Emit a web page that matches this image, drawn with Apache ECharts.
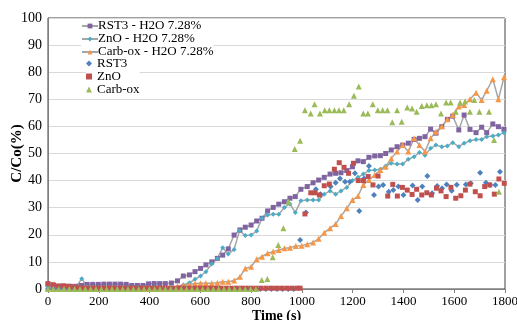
<!DOCTYPE html>
<html><head><meta charset="utf-8">
<script src="https://cdn.jsdelivr.net/npm/echarts@6/dist/echarts.min.js"></script>
<style>html,body{margin:0;padding:0;background:#fff}#c{width:517px;height:320px}</style>
</head><body><div id="c"></div>
<script>
const seriesNames = ['RST3 - H2O 7.28%', 'ZnO - H2O 7.28%', 'Carb-ox - H2O 7.28%', 'RST3', 'ZnO', 'Carb-ox'];
const xTicks = {min: 0, max: 1800, interval: 200};
const yTicks = {min: 0, max: 100, interval: 10};

const rst3H2O = [[0,1.6],[22,1.3],[44,1.0],[66,1.0],[88,1.0],[110,1.0],[132,1.3],[154,1.7],[176,1.7],[198,1.7],[220,1.8],[242,1.8],[264,1.8],[286,1.8],[308,1.7],[330,1.3],[352,1.3],[374,1.3],[396,1.9],[418,2.0],[440,2.0],[462,2.0],[486,2.2],[510,3.0],[533,4.8],[557,5.2],[579,6.4],[601,7.6],[622,8.9],[645,10.0],[667,11.3],[688,12.5],[710,14.8],[733,19.9],[756,21.8],[777,22.8],[800,23.6],[822,25.1],[843,26.1],[865,28.8],[887,30.1],[909,31.3],[931,32.2],[953,33.5],[974,34.1],[996,36.8],[1021,37.8],[1044,39.2],[1066,40.2],[1088,41.2],[1111,42.4],[1133,42.7],[1154,42.9],[1177,43.7],[1199,45.1],[1221,47.3],[1242,47.0],[1264,48.6],[1287,49.1],[1309,49.2],[1330,50.0],[1352,51.3],[1375,52.5],[1397,53.1],[1419,53.8],[1442,55.2],[1463,55.6],[1485,56.2],[1507,59.0],[1528,57.5],[1551,59.9],[1573,62.6],[1594,63.8],[1618,58.7],[1639,64.2],[1662,58.9],[1686,57.7],[1708,59.7],[1728,57.7],[1752,60.9],[1774,59.9],[1796,58.9]];

const znoH2O = [[0,0.8],[22,0.7],[44,0.6],[66,0.6],[88,0.6],[110,0.8],[133,3.8],[155,0.7],[177,0.5],[199,0.5],[221,0.5],[243,0.5],[265,0.5],[287,0.5],[309,0.5],[331,0.5],[353,0.5],[375,0.5],[397,0.5],[419,0.5],[441,0.5],[463,0.5],[486,0.5],[510,0.6],[533,1.5],[557,2.3],[579,3.6],[601,4.8],[622,6.4],[645,9.2],[667,11.3],[688,15.2],[710,12.9],[733,14.6],[754,21.5],[777,19.7],[800,19.9],[822,21.4],[843,26.1],[865,27.3],[887,27.6],[909,27.6],[931,30.1],[953,31.4],[974,28.2],[996,32.6],[1021,32.8],[1044,32.8],[1066,32.8],[1088,35.0],[1111,36.2],[1133,35.0],[1154,36.2],[1177,37.5],[1199,40.0],[1221,41.2],[1242,42.4],[1264,43.7],[1287,43.9],[1309,44.2],[1330,45.4],[1352,46.4],[1375,46.1],[1397,46.1],[1419,47.9],[1442,48.8],[1463,50.4],[1485,49.4],[1507,51.9],[1528,53.1],[1551,52.5],[1573,52.8],[1594,54.0],[1618,52.5],[1639,53.8],[1662,54.7],[1686,55.2],[1708,55.2],[1728,56.2],[1752,56.5],[1774,56.8],[1796,57.7]];

const carbH2O = [[0,0.5],[22,0.3],[44,0.3],[66,0.3],[88,0.3],[110,0.3],[132,0.3],[154,0.3],[176,0.3],[198,0.3],[220,0.3],[242,0.3],[264,0.3],[286,0.3],[308,0.3],[330,0.3],[352,0.3],[374,0.3],[396,0.3],[418,0.3],[440,0.3],[462,0.4],[486,0.5],[510,1.0],[533,1.5],[557,1.7],[579,2.0],[601,2.1],[622,2.1],[645,2.1],[667,2.3],[688,2.7],[710,2.7],[733,3.1],[756,4.5],[777,7.6],[800,8.2],[822,11.0],[843,11.9],[865,13.2],[887,13.8],[909,14.4],[931,15.0],[953,15.2],[976,15.9],[999,16.0],[1021,16.5],[1044,17.2],[1066,18.5],[1088,20.8],[1111,22.4],[1133,24.0],[1154,26.9],[1177,29.8],[1199,32.8],[1221,34.3],[1242,38.4],[1264,40.2],[1287,42.1],[1309,43.9],[1330,45.1],[1352,48.2],[1375,50.7],[1397,53.1],[1419,50.7],[1442,55.6],[1463,53.1],[1485,50.7],[1507,55.6],[1528,58.0],[1551,60.1],[1573,62.6],[1594,64.2],[1618,67.3],[1639,67.9],[1662,70.0],[1686,72.4],[1708,69.7],[1728,73.2],[1752,77.4],[1774,70.0],[1796,78.1]];

const rst3 = [[0,0],[22,0],[44,0],[66,0],[88,0],[110,0],[132,0],[154,0],[176,0],[198,0],[220,0],[242,0],[264,0],[286,0],[308,0],[330,0],[352,0],[374,0],[396,0],[418,0],[440,0],[462,0],[484,0],[506,0],[528,0],[550,0],[572,0],[594,0],[616,0],[638,0],[660,0],[682,0],[704,0],[726,0],[748,0],[770,0],[792,0],[814,0],[836,0],[858,0],[880,0],[902,0],[924,0],[946,0],[968,0],[993,18.1],[1016,28.2],[1055,36.8],[1073,35.0],[1113,37.8],[1133,39.2],[1150,40.8],[1170,39.6],[1189,39.6],[1209,42.7],[1226,28.8],[1245,40.8],[1264,45.4],[1284,34.7],[1302,37.8],[1320,38.4],[1342,35.9],[1360,36.5],[1380,37.8],[1400,34.7],[1436,38.2],[1456,32.8],[1474,37.8],[1494,41.7],[1513,35.3],[1533,38.0],[1552,37.2],[1570,38.6],[1590,36.3],[1610,38.5],[1646,38.6],[1665,39.0],[1702,42.9],[1725,39.2],[1741,38.4],[1762,38.4],[1780,43.3]];

const zno = [[0,2.0],[20,1.6],[40,1.1],[60,1.2],[80,1.0],[100,0.8],[120,0.5],[140,0.3],[160,0.3],[180,0.3],[200,0.3],[220,0.3],[240,0.3],[260,0.3],[280,0.3],[300,0.3],[320,0.3],[340,0.3],[360,0.3],[380,0.3],[400,0.3],[420,0.3],[440,0.3],[460,0.3],[480,0.3],[500,0.3],[520,0.3],[540,0.3],[560,0.3],[580,0.3],[600,0.3],[620,0.3],[640,0.3],[660,0.3],[680,0.3],[700,0.3],[720,0.3],[740,0.3],[760,0.3],[780,0.3],[800,0.3],[820,0.3],[840,0.3],[860,0.3],[880,0.3],[900,0.3],[920,0.3],[940,0.3],[960,0.3],[980,0.3],[993,0.3],[1012,27.7],[1035,35.5],[1052,35.5],[1069,34.7],[1088,38.1],[1108,38.7],[1128,44.2],[1147,46.6],[1166,44.9],[1184,42.7],[1203,46.4],[1222,40.0],[1242,40.0],[1261,41.5],[1280,38.4],[1300,41.7],[1338,34.3],[1358,38.6],[1376,34.3],[1396,37.5],[1415,36.5],[1434,34.9],[1452,36.8],[1472,34.7],[1492,35.5],[1510,34.7],[1530,37.2],[1548,36.2],[1568,34.1],[1587,37.5],[1606,33.5],[1626,34.4],[1644,36.5],[1662,38.7],[1683,35.9],[1702,34.4],[1720,37.8],[1740,38.4],[1758,35.0],[1776,40.6],[1797,39.0]];

const carbox = [[0,0],[21,0],[42,0],[63,0],[84,0],[105,0],[126,0],[147,0],[168,0],[189,0],[210,0],[231,0],[252,0],[273,0],[294,0],[315,0],[336,0],[357,0],[378,0],[399,0],[420,0],[441,0],[462,0],[483,0],[504,0],[525,0],[546,0],[567,0],[588,0],[609,0],[630,0],[651,0],[672,0],[693,0],[714,0],[735,0],[756,0],[777,0],[798,0],[819,0],[842,3.3],[864,3.7],[885,11.7],[907,16.2],[927,22.4],[947,32.2],[972,51.7],[993,54.7],[1012,66.0],[1035,64.8],[1050,68.2],[1071,64.8],[1090,66.0],[1108,66.0],[1128,66.0],[1146,66.0],[1165,66.0],[1186,68.2],[1205,71.3],[1224,74.7],[1242,64.8],[1260,64.8],[1279,68.2],[1299,66.0],[1318,66.0],[1337,66.0],[1356,61.5],[1375,66.0],[1393,61.7],[1415,67.0],[1434,66.6],[1452,65.4],[1472,67.5],[1492,67.8],[1510,67.8],[1528,68.2],[1548,64.8],[1568,68.8],[1586,68.8],[1606,65.4],[1623,68.8],[1643,69.2],[1662,65.4],[1679,69.7],[1699,65.4],[1737,65.4],[1757,55.0],[1776,35.9]];

const FONT = 'Liberation Serif, Times New Roman, serif';
const chart = echarts.init(document.getElementById('c'), null, {renderer: 'canvas'});
const lineGray = '#a6a6a6';
function lineSeries(name, data, symbol, size, color) {
  return {name, type: 'line', data, symbol, symbolSize: size, showSymbol: true, showAllSymbol: true,
    lineStyle: {color: lineGray, width: 1.5}, itemStyle: {color, borderColor: color, borderWidth: 0},
    emphasis: {disabled: true}, z: 2};
}
function scatterSeries(name, data, symbol, size, color) {
  return {name, type: 'scatter', data, symbol, symbolSize: size, itemStyle: {color, opacity: 1},
    emphasis: {disabled: true}, z: 3};
}
const legendText = {fontFamily: FONT, fontSize: 13, lineHeight: 12.5, color: '#000'};
chart.setOption({
  animation: false,
  backgroundColor: '#fff',
  grid: {left: 48, right: 12, top: 18, bottom: 31, show: true, borderColor: '#404040', borderWidth: 1,
    outerBoundsMode: 'none', containLabel: false},
  legend: [
    {orient: 'vertical', left: 81, top: 19.5, itemWidth: 16, itemHeight: 6, itemGap: 0, padding: 0,
      backgroundColor: '#fff', selectedMode: false, data: seriesNames.slice(0, 3),
      textStyle: Object.assign({padding: [0, 0, 0, -5]}, legendText)},
    {orient: 'vertical', left: 86, top: 57, itemWidth: 6, itemHeight: 6, itemGap: 0, padding: 0,
      backgroundColor: '#fff', selectedMode: false, data: seriesNames.slice(3),
      textStyle: Object.assign({}, legendText)}
  ],
  xAxis: {type: 'value', min: xTicks.min, max: xTicks.max, interval: xTicks.interval,
    axisLine: {show: true, lineStyle: {color: '#808080', width: 1}},
    axisTick: {show: true, length: 4, lineStyle: {color: '#808080'}},
    splitLine: {show: false},
    axisLabel: {fontFamily: FONT, fontSize: 13, color: '#000', margin: 6, formatter: v => String(v)},
    name: 'Time (s)', nameLocation: 'middle', nameGap: 20, nameMoveOverlap: false,
    nameTextStyle: {fontFamily: FONT, fontSize: 14, fontWeight: 'bold', color: '#000'}},
  yAxis: {type: 'value', min: yTicks.min, max: yTicks.max, interval: yTicks.interval,
    axisLine: {show: true, lineStyle: {color: '#808080', width: 1}},
    axisTick: {show: false},
    splitLine: {show: true, lineStyle: {color: '#d9d9d9', width: 1}},
    axisLabel: {fontFamily: FONT, fontSize: 14, color: '#000', margin: 6, formatter: v => String(v)},
    name: 'C/Co(%)', nameLocation: 'middle', nameGap: 23, nameMoveOverlap: false,
    nameTextStyle: {fontFamily: FONT, fontSize: 15, fontWeight: 'bold', color: '#000'}},
  series: [
    lineSeries(seriesNames[0], rst3H2O, 'rect', 5, '#8064a2'),
    lineSeries(seriesNames[1], znoH2O, 'diamond', 5, '#4bacc6'),
    lineSeries(seriesNames[2], carbH2O, 'triangle', 6, '#f79646'),
    scatterSeries(seriesNames[3], rst3, 'diamond', 6, '#4f81bd'),
    scatterSeries(seriesNames[4], zno, 'rect', 5, '#c0504d'),
    scatterSeries(seriesNames[5], carbox, 'triangle', 6, '#9bbb59')
  ]
});
</script>
</body></html>
